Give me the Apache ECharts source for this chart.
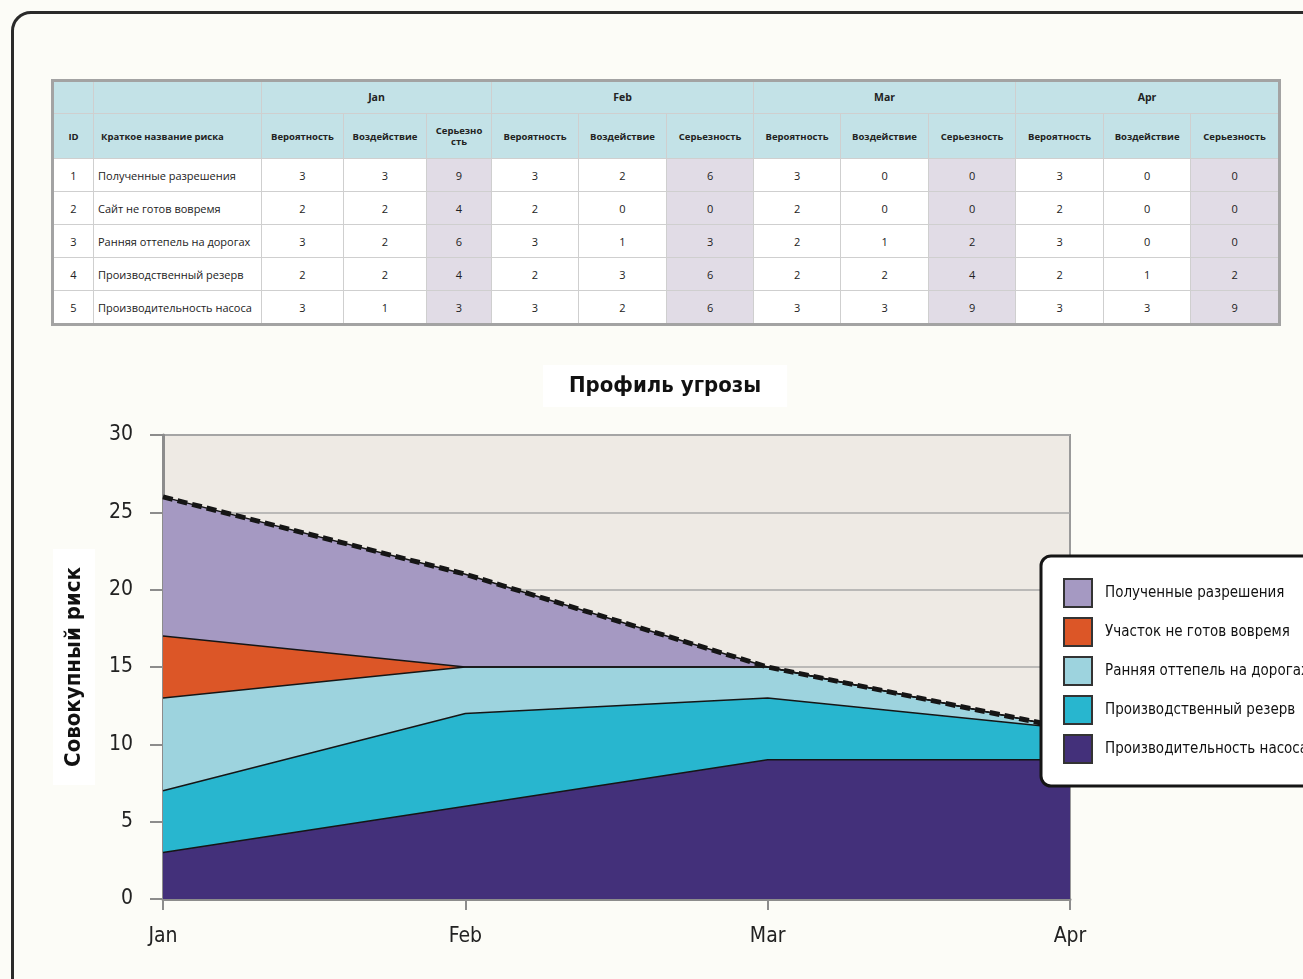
<!DOCTYPE html>
<html>
<head>
<meta charset="utf-8">
<title>Профиль угрозы</title>
<script src="https://cdn.jsdelivr.net/npm/echarts@6.0.0/dist/echarts.min.js"></script>
<style>
	html, body {
		margin: 0;
		padding: 0;
		width: 1303px;
		height: 979px;
		overflow: hidden;
		background: #fcfcf7;
	}
	.frame {
		position: absolute;
		left: 11px;
		top: 11px;
		width: 1400px;
		height: 1100px;
		border: 3px solid #2a2a2a;
		border-radius: 20px;
		background: #fcfcf7;
	}
	#chart {
		position: absolute;
		left: 0;
		top: 0;
		width: 1303px;
		height: 979px;
	}
	table.risk {
		position: absolute;
		left: 51px;
		top: 79px;
		width: 1229px;
		table-layout: fixed;
		border-collapse: collapse;
		border: 3px solid #a3a3a3;
		font-family: "Open Sans", "Noto Sans", sans-serif;
		color: #222;
		background: #fff;
	}
	table.risk td, table.risk th {
		border: 1px solid #cfcfcf;
		padding: 0;
		text-align: center;
		overflow: hidden;
	}
	table.risk th {
		background: #c3e2e7;
		font-size: 9.5px;
		font-weight: 700;
		line-height: 11px;
	}
	table.risk tr.h1 th { height: 31px; font-size: 10.5px; }
	table.risk tr.h2 th { height: 44px; }
	table.risk td {
		height: 32px;
		font-size: 11px;
	}
	table.risk td.name, table.risk th.name {
		text-align: left;
		padding-left: 4px;
		white-space: nowrap;
	}
	table.risk th.name { padding-left: 7px; }
	table.risk td.sev { background: #e1dce6; }
</style>
</head>
<body>
<div class="frame"></div>
<div id="chart"></div>
<table class="risk" id="riskTable"></table>

<script type="text/javascript">
	// данные таблицы и графика
	var months = ['Jan', 'Feb', 'Mar', 'Apr'];
	var riskIds = [1, 2, 3, 4, 5];
	var riskNames = ['Полученные разрешения', 'Сайт не готов вовремя', 'Ранняя оттепель на дорогах', 'Производственный резерв', 'Производительность насоса'];
	var legendNames = ['Полученные разрешения', 'Участок не готов вовремя', 'Ранняя оттепель на дорогах', 'Производственный резерв', 'Производительность насоса'];
	var colHeaders = ['Вероятность', 'Воздействие', 'Серьезность'];

	// по месяцам Jan..Apr
	var probPermits = [3, 3, 3, 3];
	var probSite = [2, 2, 2, 2];
	var probThaw = [3, 3, 2, 3];
	var probReserve = [2, 2, 2, 2];
	var probPump = [3, 3, 3, 3];

	var impactPermits = [3, 2, 0, 0];
	var impactSite = [2, 0, 0, 0];
	var impactThaw = [2, 1, 1, 0];
	var impactReserve = [2, 3, 2, 1];
	var impactPump = [1, 2, 3, 3];

	var sevPermits = [9, 6, 0, 0];
	var sevSite = [4, 0, 0, 0];
	var sevThaw = [6, 3, 2, 0];
	var sevReserve = [4, 6, 4, 2];
	var sevPump = [3, 6, 9, 9];

	var totalRisk = [26, 21, 15, 11];
	var yTicks = [0, 5, 10, 15, 20, 25, 30];

	var colors = ['#a599c2', '#dc5627', '#9dd3de', '#28b6cf', '#43307a'];

	// таблица
	(function() {
		var probs = [probPermits, probSite, probThaw, probReserve, probPump];
		var impacts = [impactPermits, impactSite, impactThaw, impactReserve, impactPump];
		var sevs = [sevPermits, sevSite, sevThaw, sevReserve, sevPump];
		var widths = [41, 168, 82, 83, 65, 87, 88, 87, 87, 88, 87, 88, 87, 89];
		var html = '<colgroup>';
		for(var w = 0; w < widths.length; w++) {
			html += '<col style="width:' + widths[w] + 'px">';
		}
		html += '</colgroup>';
		html += '<tr class="h1"><th></th><th></th>';
		for(var m = 0; m < months.length; m++) {
			html += '<th colspan="3">' + months[m] + '</th>';
		}
		html += '</tr><tr class="h2"><th>ID</th><th class="name">Краткое название риска</th>';
		for(var m = 0; m < months.length; m++) {
			for(var c = 0; c < colHeaders.length; c++) {
				var t = colHeaders[c];
				if(m === 0 && c === 2) t = 'Серьезно<br>сть';
				html += '<th>' + t + '</th>';
			}
		}
		html += '</tr>';
		for(var i = 0; i < riskIds.length; i++) {
			html += '<tr><td>' + riskIds[i] + '</td><td class="name">' + riskNames[i] + '</td>';
			for(var m = 0; m < months.length; m++) {
				html += '<td>' + probs[i][m] + '</td><td>' + impacts[i][m] + '</td><td class="sev">' + sevs[i][m] + '</td>';
			}
			html += '</tr>';
		}
		document.getElementById('riskTable').innerHTML = html;
	})();

	var chartFont = '"DejaVu Sans Condensed", "Liberation Sans Narrow", "Liberation Sans", sans-serif';

	function areaSeries(name, data, color) {
		return {
			name: name,
			type: 'line',
			stack: 'risk',
			data: data,
			symbol: 'none',
			color: color,
			itemStyle: { color: color },
			lineStyle: { color: '#151515', width: 1.5 },
			areaStyle: { color: color, opacity: 1 },
			emphasis: { disabled: true },
			z: 2
		};
	}

	var myChart = echarts.init(document.getElementById('chart'));
	var option = {
		animation: false,
		backgroundColor: 'transparent',
		textStyle: { fontFamily: chartFont },
		title: {
			text: 'Профиль угрозы',
			left: 543,
			top: 365,
			backgroundColor: '#ffffff',
			padding: [10, 26, 10, 26],
			textStyle: {
				fontFamily: chartFont,
				fontSize: 22,
				fontWeight: 'bold',
				color: '#111'
			}
		},
		legend: {
			orient: 'vertical',
			left: 1041,
			top: 556,
			z: 10,
			padding: [22, 30, 22, 22],
			itemWidth: 28,
			itemHeight: 28,
			itemGap: 9,
			icon: 'rect',
			backgroundColor: '#ffffff',
			borderColor: '#151515',
			borderWidth: 3,
			borderRadius: 10,
			selectedMode: false,
			itemStyle: { borderColor: '#333', borderWidth: 2 },
			textStyle: {
				fontFamily: chartFont,
				fontSize: 15,
				color: '#111',
				padding: [0, 0, 0, 8]
			},
			data: legendNames
		},
		grid: {
			left: 163,
			top: 435,
			width: 907,
			height: 464,
			show: true,
			backgroundColor: '#eeeae4',
			borderColor: '#9a9a9a',
			borderWidth: 2
		},
		xAxis: {
			type: 'category',
			data: months,
			boundaryGap: false,
			axisLine: { lineStyle: { color: '#8c8c8c', width: 3 } },
			axisTick: { show: true, alignWithLabel: true, length: 11, lineStyle: { color: '#8c8c8c', width: 2 } },
			axisLabel: { fontSize: 21, color: '#222', margin: 27, fontFamily: chartFont }
		},
		yAxis: {
			type: 'value',
			min: yTicks[0],
			max: yTicks[yTicks.length - 1],
			interval: 5,
			name: 'Совокупный риск',
			nameLocation: 'middle',
			nameGap: 68,
			nameRotate: 90,
			nameTextStyle: {
				fontFamily: chartFont,
				fontSize: 22,
				fontWeight: 'bold',
				color: '#111',
				backgroundColor: '#ffffff',
				padding: [10, 18, 10, 18]
			},
			axisLine: { show: true, lineStyle: { color: '#8c8c8c', width: 3 } },
			axisTick: { show: true, length: 13, lineStyle: { color: '#8c8c8c', width: 2 } },
			splitLine: { lineStyle: { color: '#a8a8a8', width: 1.5 } },
			axisLabel: { fontSize: 21, color: '#222', margin: 30, fontFamily: chartFont }
		},
		series: [
			areaSeries(legendNames[4], sevPump, colors[4]),
			areaSeries(legendNames[3], sevReserve, colors[3]),
			areaSeries(legendNames[2], sevThaw, colors[2]),
			areaSeries(legendNames[1], sevSite, colors[1]),
			areaSeries(legendNames[0], sevPermits, colors[0]),
			{
				name: 'Итого',
				type: 'line',
				data: totalRisk,
				symbol: 'none',
				lineStyle: { color: '#151515', width: 5, type: [10, 5] },
				emphasis: { disabled: true },
				z: 3
			}
		]
	};
	myChart.setOption(option);
</script>
</body>
</html>
